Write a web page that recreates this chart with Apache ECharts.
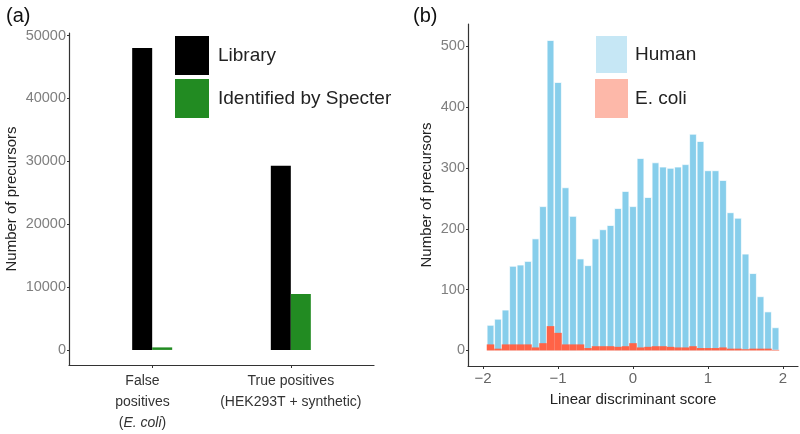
<!DOCTYPE html>
<html>
<head>
<meta charset="utf-8">
<script src="https://cdn.jsdelivr.net/npm/echarts@6/dist/echarts.min.js"></script>
<style>
html,body{margin:0;padding:0;background:#fff;}
#chart{width:800px;height:434px;}
</style>
</head>
<body>
<div id="chart"></div>
<script>
// ---- Panel (a) data ----
const categories = ['False positives (E. coli)', 'True positives (HEK293T + synthetic)'];
const categoryPos = [1, 2];
const categoryLabelPos = [0.93, 2];
const libraryCounts = [48000, 29300];
const identifiedCounts = [400, 8900];
const yTicksA = [0, 10000, 20000, 30000, 40000, 50000];

// ---- Panel (b) data ----
const scoreBins = [-1.9, -1.8, -1.7, -1.6, -1.5, -1.4, -1.3, -1.2, -1.1, -1.0,
  -0.9, -0.8, -0.7, -0.6, -0.5, -0.4, -0.3, -0.2, -0.1, 0.0,
  0.1, 0.2, 0.3, 0.4, 0.5, 0.6, 0.7, 0.8, 0.9, 1.0,
  1.1, 1.2, 1.3, 1.4, 1.5, 1.6, 1.7, 1.8, 1.9];
const humanCounts = [42, 52, 67, 139, 141, 147, 184, 237, 510, 441,
  268, 221, 151, 140, 184, 199, 206, 234, 262, 237,
  316, 252, 309, 302, 300, 302, 306, 356, 344, 296,
  296, 280, 227, 218, 159, 127, 89, 64, 38];
const ecoliCounts = [10, 3, 10, 10, 10, 10, 5, 12, 40, 29,
  10, 10, 10, 4, 7, 7, 7, 6, 7, 12,
  5, 6, 7, 7, 6, 5, 5, 7, 4, 4,
  4, 5, 3, 3, 2, 3, 3, 3, 1];
const xTicksB = [-2, -1, 0, 1, 2];
const yTicksB = [0, 100, 200, 300, 400, 500];

const FONT = "'Liberation Sans', Arial, sans-serif";
const axisLineStyle = { color: '#333', width: 1.2 };

const chart = echarts.init(document.getElementById('chart'), null, { renderer: 'canvas' });

const option = {
  animation: false,
  backgroundColor: '#fff',
  textStyle: { fontFamily: FONT },
  title: [
    { text: '(a)', left: 1, top: 1, textStyle: { fontSize: 20, fontWeight: 'normal', color: '#111', fontFamily: FONT } },
    { text: '(b)', left: 408, top: 1, textStyle: { fontSize: 20, fontWeight: 'normal', color: '#111', fontFamily: FONT } }
  ],
  legend: [
    {
      orient: 'vertical', left: 170, top: 31, itemWidth: 34, itemHeight: 39, itemGap: 4,
      icon: 'rect',
      textStyle: { fontSize: 19, color: '#222', fontFamily: FONT, padding: [0, 0, 0, 4] },
      data: [
        { name: 'Library', itemStyle: { color: '#000' } },
        { name: 'Identified by Specter', itemStyle: { color: '#228B22' } }
      ]
    },
    {
      orient: 'vertical', left: 589, top: 29, itemWidth: 33, itemHeight: 39, itemGap: 4,
      icon: 'rect',
      textStyle: { fontSize: 19, color: '#222', fontFamily: FONT, padding: [0, 0, 0, 2] },
      data: [
        { name: 'Human', itemStyle: { color: '#c6e7f5' } },
        { name: 'E. coli', itemStyle: { color: '#fdb8a9' } }
      ]
    }
  ],
  grid: [
    { left: 69, top: 33, width: 305, height: 338, containLabel: false },
    { left: 468, top: 24, width: 330, height: 342, containLabel: false }
  ],
  xAxis: [
    {
      type: 'value', gridIndex: 0, min: 0.4, max: 2.6,
      splitLine: { show: false },
      axisLine: { show: true, onZero: false, lineStyle: axisLineStyle },
      axisTick: { show: true, length: 3, customValues: categoryPos, lineStyle: { color: '#333' } },
      axisLabel: {
        customValues: categoryLabelPos,
        margin: 6,
        color: '#333', fontSize: 14, lineHeight: 21, fontFamily: FONT,
        formatter: function (v) {
          const i = Math.abs(v - categoryLabelPos[0]) < 0.3 ? 0 : 1;
          if (i === 0) return 'False\npositives\n({it|E. coli})';
          return 'True positives\n(HEK293T + synthetic)';
        },
        rich: { it: { fontStyle: 'italic', fontSize: 14, color: '#333', fontFamily: FONT, lineHeight: 21 } }
      }
    },
    {
      type: 'value', gridIndex: 1, min: -2.2, max: 2.2,
      splitLine: { show: false },
      axisLine: { show: true, onZero: false, lineStyle: axisLineStyle },
      axisTick: { show: true, length: 3, customValues: xTicksB, lineStyle: { color: '#333' } },
      axisLabel: {
        customValues: xTicksB, margin: 5, color: '#666', fontSize: 15, fontFamily: FONT,
        formatter: function (v) { return v < 0 ? '\u2212' + Math.abs(v) : String(v); }
      },
      name: 'Linear discriminant score', nameLocation: 'middle', nameGap: 26,
      nameTextStyle: { fontSize: 15, color: '#222', fontFamily: FONT }
    }
  ],
  yAxis: [
    {
      type: 'value', gridIndex: 0, min: -2400, max: 50400,
      splitLine: { show: false },
      axisLine: { show: true, onZero: false, lineStyle: axisLineStyle },
      axisTick: { show: true, length: 2, customValues: yTicksA, lineStyle: { color: '#333' } },
      axisLabel: { customValues: yTicksA, margin: 3, color: '#7f7f7f', fontSize: 14.5, fontFamily: FONT,
        formatter: function (v) { return String(v); } },
      name: 'Number of precursors', nameLocation: 'middle', nameGap: 50, nameRotate: 90,
      nameTextStyle: { fontSize: 15, color: '#222', fontFamily: FONT }
    },
    {
      type: 'value', gridIndex: 1, min: -25.5, max: 536.5,
      splitLine: { show: false },
      axisLine: { show: true, onZero: false, lineStyle: axisLineStyle },
      axisTick: { show: true, length: 2, customValues: yTicksB, lineStyle: { color: '#333' } },
      axisLabel: { customValues: yTicksB, margin: 3, color: '#7f7f7f', fontSize: 14.5, fontFamily: FONT,
        formatter: function (v) { return String(v); } },
      name: 'Number of precursors', nameLocation: 'middle', nameGap: 34, nameRotate: 90,
      nameTextStyle: { fontSize: 15, color: '#222', fontFamily: FONT }
    }
  ],
  series: [
    {
      name: 'Library', type: 'bar', xAxisIndex: 0, yAxisIndex: 0,
      barWidth: 20, barGap: '0%',
      itemStyle: { color: '#000' },
      data: categoryPos.map((x, i) => [x, libraryCounts[i]])
    },
    {
      name: 'Identified by Specter', type: 'bar', xAxisIndex: 0, yAxisIndex: 0,
      barWidth: 20, barGap: '0%',
      itemStyle: { color: '#228B22' },
      data: categoryPos.map((x, i) => [x, identifiedCounts[i]])
    },
    {
      name: 'Human', type: 'bar', xAxisIndex: 1, yAxisIndex: 1,
      barWidth: '100%', barGap: '-100%',
      itemStyle: { color: '#87CEEB', borderColor: '#ffffff', borderWidth: 0.7 },
      data: scoreBins.map((x, i) => [x, humanCounts[i]])
    },
    {
      name: 'E. coli', type: 'bar', xAxisIndex: 1, yAxisIndex: 1,
      barWidth: '100%', barGap: '-100%',
      itemStyle: { color: '#FF6347' },
      data: scoreBins.map((x, i) => [x, ecoliCounts[i]])
    }
  ]
};

chart.setOption(option);
</script>
</body>
</html>
